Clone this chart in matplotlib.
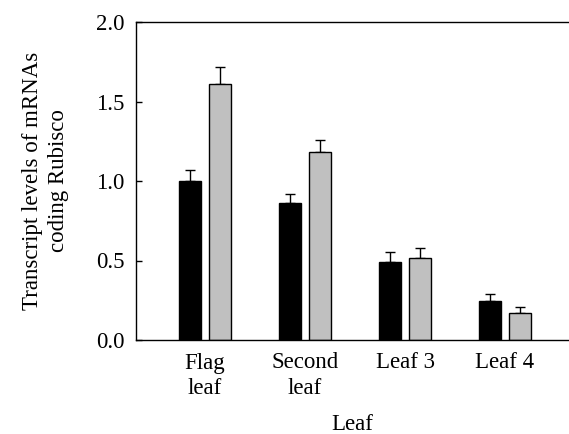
import matplotlib
matplotlib.use("Agg")
import matplotlib.pyplot as plt
import numpy as np

categories = ["Flag\nleaf", "Second\nleaf", "Leaf 3", "Leaf 4"]
series_black = [1.00, 0.86, 0.49, 0.245]
series_black_err = [0.07, 0.06, 0.065, 0.042]
series_grey = [1.61, 1.18, 0.515, 0.172]
series_grey_err = [0.11, 0.08, 0.062, 0.033]
yticks = [0.0, 0.5, 1.0, 1.5, 2.0]

plt.rcParams['font.family'] = ['Liberation Serif', 'DejaVu Serif']

fig = plt.figure(figsize=(5.69, 4.34), dpi=100)
W, H = 569, 434
ax = fig.add_axes([136 / W, 1 - 340 / H, (569 - 136) / W, (340 - 22) / H])

x = np.arange(len(categories))
bw = 0.215
off = 0.15
zeros = [0] * len(categories)
ax.bar(x - off, series_black, bw, color='black', edgecolor='black', linewidth=1, zorder=2)
ax.bar(x + off, series_grey, bw, color='#c0c0c0', edgecolor='black', linewidth=1, zorder=2)
ax.errorbar(x - off, series_black, yerr=[zeros, series_black_err], fmt='none',
            ecolor='black', elinewidth=1, capsize=3.3, capthick=1, zorder=1)
ax.errorbar(x + off, series_grey, yerr=[zeros, series_grey_err], fmt='none',
            ecolor='black', elinewidth=1, capsize=3.3, capthick=1, zorder=1)

fs = 16.5
ax.set_xlim(-0.69, 3.64)
ax.set_ylim(0, 2.0)
ax.set_yticks(yticks)
ax.set_yticklabels([f"{v:.1f}" for v in yticks], fontsize=fs)
ax.set_xticks(x)
ax.set_xticklabels(categories, fontsize=fs, linespacing=1.25)
ax.tick_params(axis='x', length=0, pad=9)
ax.tick_params(axis='y', direction='in', length=4, width=1, pad=8)
for s in ['left', 'bottom', 'top']:
    ax.spines[s].set_linewidth(1)
ax.spines['right'].set_visible(False)

ax.set_xlabel("Leaf", fontsize=fs, labelpad=11)
ax.set_ylabel("Transcript levels of mRNAs\ncoding Rubisco", fontsize=fs, labelpad=20, linespacing=1.3)

fig.savefig("out.png", dpi=100)
